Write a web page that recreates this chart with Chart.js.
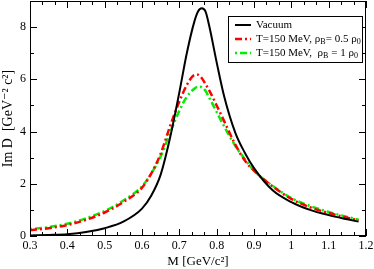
<!DOCTYPE html>
<html>
<head>
<meta charset="utf-8">
<script src="https://cdn.jsdelivr.net/npm/chart.js@4"></script>
<style>
  html, body { margin: 0; padding: 0; background: #fff; }
  #wrap { width: 374px; height: 269px; }
</style>
</head>
<body>
<div id="wrap"><canvas id="imDChart" width="374" height="269"></canvas></div>
<script>
// invariant mass grid [GeV/c^2] and Im D
const mass    = [0.30, 0.35, 0.40, 0.45, 0.50, 0.55, 0.60, 0.625, 0.65, 0.675, 0.70, 0.72, 0.74, 0.75, 0.76, 0.77, 0.78, 0.80, 0.82, 0.85, 0.875, 0.90, 0.95, 1.00, 1.05, 1.10, 1.15, 1.18];
const vacuum  = [0.02, 0.04, 0.07, 0.15, 0.30, 0.55, 1.05, 1.55, 2.35, 3.75, 5.50, 7.00, 8.20, 8.60, 8.72, 8.60, 8.05, 6.65, 5.35, 3.95, 3.20, 2.60, 1.75, 1.30, 1.00, 0.80, 0.64, 0.55];
const rhoHalf = [0.22, 0.30, 0.42, 0.62, 0.90, 1.30, 1.85, 2.40, 3.15, 4.20, 5.15, 5.78, 6.16, 6.18, 6.05, 5.82, 5.58, 5.00, 4.40, 3.50, 2.90, 2.50, 1.90, 1.42, 1.10, 0.88, 0.70, 0.60];
const rhoFull = [0.26, 0.34, 0.47, 0.68, 0.96, 1.36, 1.90, 2.40, 3.05, 3.95, 4.80, 5.33, 5.64, 5.72, 5.70, 5.56, 5.30, 4.75, 4.20, 3.45, 2.95, 2.50, 1.92, 1.45, 1.15, 0.92, 0.73, 0.62];

const xTicks = [0.3, 0.4, 0.5, 0.6, 0.7, 0.8, 0.9, 1.0, 1.1, 1.2];
const yTicks = [0, 2, 4, 6, 8];

// "_X" marks a subscript character
const seriesNames = ['Vacuum', 'T=150 MeV, ρ_B= 0.5 ρ_0', 'T=150 MeV,  ρ_B = 1 ρ_0'];

const serif = '"Liberation Serif", "DejaVu Serif", serif';

const pts = ys => mass.map((m, i) => ({ x: m, y: ys[i] }));

// box round the plot, inward ticks on all four sides
const frame = {
  id: 'frame',
  afterDatasetsDraw(chart) {
    const { ctx, chartArea: a, scales: { x, y } } = chart;
    ctx.save();
    ctx.strokeStyle = '#000';
    ctx.lineWidth = 1;
    ctx.setLineDash([]);
    ctx.strokeRect(a.left + 0.5, a.top + 0.5, a.right - a.left - 1, a.bottom - a.top - 1);
    ctx.beginPath();
    const xt = (v, len) => {
      const p = Math.round(x.getPixelForValue(v)) + 0.5;
      ctx.moveTo(p, a.bottom); ctx.lineTo(p, a.bottom - len);
      ctx.moveTo(p, a.top); ctx.lineTo(p, a.top + len);
    };
    const yt = (v, len) => {
      const p = Math.round(y.getPixelForValue(v)) + 0.5;
      ctx.moveTo(a.left, p); ctx.lineTo(a.left + len, p);
      ctx.moveTo(a.right, p); ctx.lineTo(a.right - len, p);
    };
    xTicks.forEach((v, i) => {
      xt(v, 7);
      if (i < xTicks.length - 1) {
        const d = (xTicks[i + 1] - v) / 3;
        xt(v + d, 4); xt(v + 2 * d, 4);
      }
    });
    yTicks.forEach(v => { yt(v, 7); yt(v + 1, 4); });
    ctx.stroke();
    ctx.restore();
  }
};

function drawLabel(ctx, text, x, y) {
  const parts = text.split(/_(.)/);
  parts.forEach((s, i) => {
    const sub = i % 2 === 1;
    ctx.font = (sub ? 8 : 11) + 'px ' + serif;
    ctx.fillText(s, x, sub ? y + 3 : y);
    x += ctx.measureText(s).width;
  });
}

const legendBox = {
  id: 'legendBox',
  afterDraw(chart) {
    const ctx = chart.ctx;
    const bx = 228, by = 16, bw = 135, bh = 47;
    ctx.save();
    ctx.fillStyle = '#fff';
    ctx.fillRect(bx, by, bw, bh);
    ctx.strokeStyle = '#000';
    ctx.lineWidth = 1;
    ctx.strokeRect(bx + 0.5, by + 0.5, bw - 1, bh - 1);
    ctx.textBaseline = 'middle';
    ctx.fillStyle = '#000';
    chart.data.datasets.forEach((ds, i) => {
      const yy = by + 9 + i * 14;
      ctx.strokeStyle = ds.borderColor;
      ctx.lineWidth = ds.borderWidth;
      ctx.setLineDash(ds.borderDash || []);
      ctx.beginPath();
      ctx.moveTo(bx + 7, yy); ctx.lineTo(bx + 23, yy);
      ctx.stroke();
      drawLabel(ctx, ds.label, bx + 28, yy);
    });
    ctx.restore();
  }
};

new Chart(document.getElementById('imDChart'), {
  type: 'line',
  data: {
    datasets: [
      { label: seriesNames[0], data: pts(vacuum), borderColor: '#000000', borderWidth: 2 },
      { label: seriesNames[1], data: pts(rhoHalf), borderColor: '#ff0000', borderWidth: 2.5, borderDash: [7, 3, 2, 3] },
      { label: seriesNames[2], data: pts(rhoFull), borderColor: '#00ee00', borderWidth: 2.5, borderDash: [2, 3, 7, 3] }
    ]
  },
  options: {
    responsive: false,
    animation: false,
    devicePixelRatio: 1,
    layout: { padding: { top: 1, right: 8, left: 0, bottom: 0 } },
    elements: { point: { radius: 0 }, line: { cubicInterpolationMode: 'monotone' } },
    plugins: { legend: { display: false }, tooltip: { enabled: false } },
    scales: {
      x: {
        type: 'linear', min: 0.3, max: 1.2,
        grid: { display: false, drawTicks: false }, border: { display: false },
        afterBuildTicks: s => { s.ticks = xTicks.map(v => ({ value: v })); },
        afterFit: s => { s.height = 33; s.paddingLeft = 0; s.paddingRight = 0; },
        ticks: { padding: 3, color: '#000', maxRotation: 0, autoSkip: false,
                 font: { family: serif, size: 12 },
                 callback: v => String(Math.round(v * 10) / 10) },
        title: { display: true, text: 'M [GeV/c²]', color: '#000',
                 font: { family: serif, size: 13 }, padding: 0 }
      },
      y: {
        type: 'linear', min: 0, max: 9,
        grid: { display: false, drawTicks: false }, border: { display: false },
        afterBuildTicks: s => { s.ticks = yTicks.map(v => ({ value: v })); },
        afterFit: s => { s.width = 30; s.paddingTop = 0; s.paddingBottom = 0; },
        ticks: { padding: 4, color: '#000', font: { family: serif, size: 12 } },
        title: { display: true, text: 'Im D  [GeV⁻² c²]', color: '#000',
                 font: { family: serif, size: 14 }, padding: 0 }
      }
    }
  },
  plugins: [frame, legendBox]
});
</script>
</body>
</html>
